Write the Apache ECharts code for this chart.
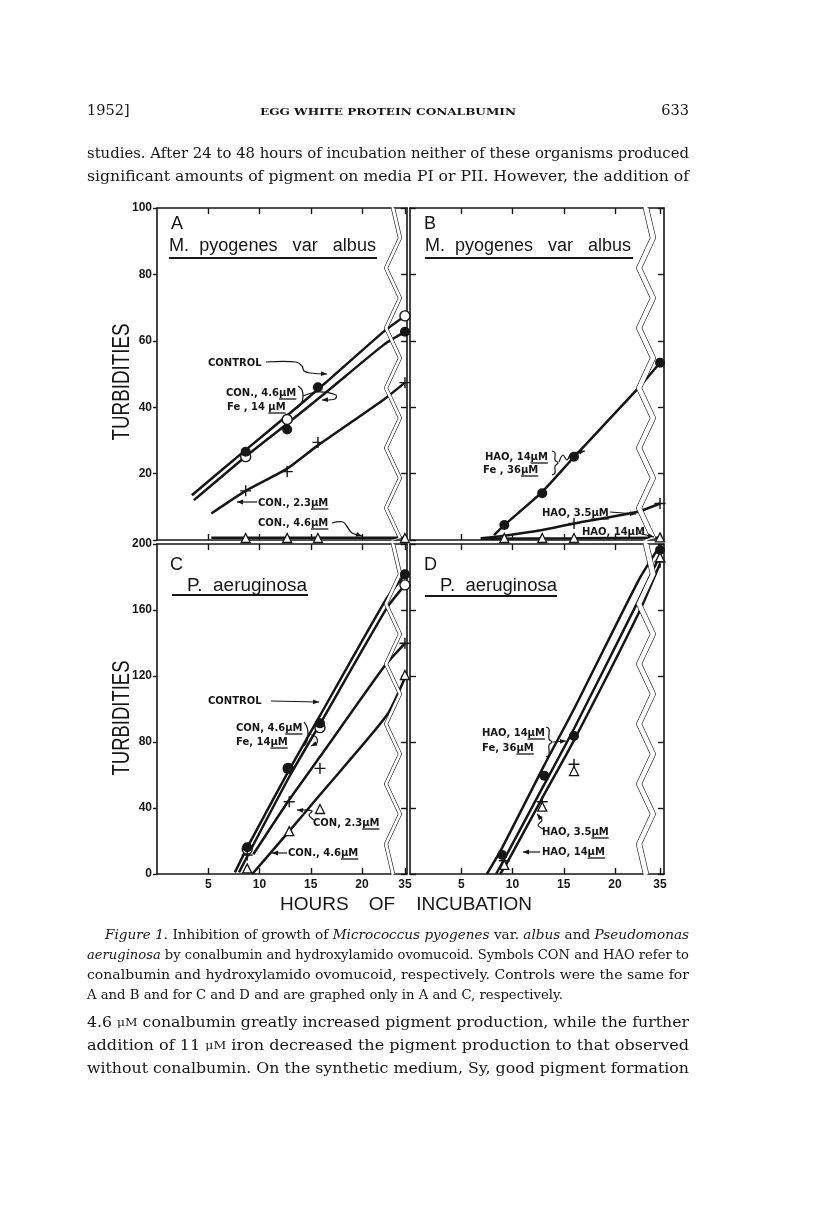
<!DOCTYPE html>
<html>
<head>
<meta charset="utf-8">
<script src="https://cdn.jsdelivr.net/npm/echarts@6.0.0/dist/echarts.min.js"></script>
<style>
  html, body { margin: 0; padding: 0; background: #fff; }
  #chart { width: 816px; height: 1213px; }
</style>
</head>
<body>
<div id="chart"></div>
<script>
// ---- tick values ----
const xTicks = [5, 10, 15, 20, 35];

// ---- panel A: M. pyogenes var albus (CON) ----
const aCtrlCurve = [[3.4, 13.5], [8.6, 27], [12.7, 37.5], [16.5, 47.5], [22.2, 63], [35, 67.5]];
const aConFeCurve = [[3.6, 12], [8.6, 25], [12.7, 35], [16.5, 44.5], [22.2, 59], [35, 62.7]];
const aCon23Curve = [[5.3, 8], [8.65, 14.8], [12.7, 21.5], [15.7, 28.5], [22.2, 42.5], [35, 47.4]];
const aCon46Curve = [[5.3, 0.7], [12.7, 0.7], [22.2, 0.7], [35, 0.7]];
const aCtrlOpen = [[8.65, 25.1], [12.7, 36.3], [35, 67.5]];
const aConFeDots = [[8.65, 26.6], [12.7, 33.3], [15.7, 46], [35, 62.7]];
const aCon23Plus = [[8.65, 14.8], [12.7, 20.6], [15.7, 29.4], [35, 47.4]];
const aCon46Tri = [[8.65, 0.6], [12.7, 0.6], [15.7, 0.6], [35, 0.6]];

// ---- panel B: M. pyogenes var albus (HAO) ----
const bHaoFeCurve = [[8.2, 1.5], [9.2, 4.5], [12.9, 14.5], [16, 25], [22.2, 45.5], [35, 53.4]];
const bHao35Curve = [[6.9, 0.5], [9.2, 1.3], [12.9, 3], [16, 5], [22.2, 8.5], [35, 11]];
const bHao14Curve = [[6.9, 0.4], [16, 0.5], [35, 0.7]];
const bHaoFeDots = [[9.2, 4.5], [12.9, 14.1], [16, 25.1], [35, 53.4]];
const bHao35Plus = [[16, 5], [35, 11]];
const bHao14Tri = [[9.2, 0.6], [12.9, 0.6], [16, 0.6], [35, 0.8]];

// ---- panel C: P. aeruginosa (CON) ----
const cConFeCurve = [[7.6, 1], [8.8, 16], [12.8, 62], [15.9, 96], [22.3, 166], [35, 181.6]];
const cCtrlCurve = [[8.0, 1], [9, 13], [13, 60], [16, 92], [22.4, 161], [35, 175.2]];
const cCon23Curve = [[9.4, 12], [12.9, 45], [15.9, 71], [22.2, 126], [35, 139.8]];
const cCon46Curve = [[9.3, 0], [12.9, 26], [15.9, 48], [22.4, 96], [35, 119]];
const cCtrlOpen = [[8.8, 15], [12.8, 64], [15.9, 88.7], [35, 175.2]];
const cConFeDots = [[8.8, 16.2], [12.8, 64], [15.9, 91.3], [35, 181.6]];
const cCon23Plus = [[8.8, 11.5], [12.9, 43.8], [15.9, 64], [35, 139.8]];
const cCon46Tri = [[8.8, 3.4], [12.9, 26], [15.9, 39.4], [35, 120.6]];

// ---- panel D: P. aeruginosa (HAO) ----
const dHaoFeCurve = [[7.5, 0], [9, 16], [13.1, 66], [16, 100], [22.3, 178], [35, 199]];
const dHao35Curve = [[8.4, 0], [9.2, 9], [12.9, 52], [16, 88], [22.3, 166], [35, 193]];
const dHao14Curve = [[8.8, 0], [9.4, 6], [12.9, 46], [16, 81], [22.3, 158], [35, 188]];
const dHaoFeDots = [[9, 11.5], [13.1, 59.6], [16, 83.6], [35, 196.4]];
const dHao35Plus = [[9.2, 8], [12.9, 43.8], [16, 66.5], [35, 189]];
const dHao14Tri = [[9.2, 5.5], [12.9, 40.8], [16, 62.4], [35, 192]];

// ---- layout ----
const INK = '#161616';
const panels = [
  { left: 157, top: 208, width: 250, height: 332, xmax: 35.2, brk: [22.83, 33.93], gap: 0.29, ymax: 100, yint: 20, yLabels: true, xLabels: false },
  { left: 410, top: 208, width: 254, height: 332, xmax: 35.39, brk: [22.73, 33.83], gap: 0.49, ymax: 100, yint: 20, yLabels: false, xLabels: false },
  { left: 157, top: 544, width: 250, height: 330, xmax: 35.2, brk: [22.83, 33.93], gap: 0.29, ymax: 200, yint: 40, yLabels: true, xLabels: true },
  { left: 410, top: 544, width: 254, height: 330, xmax: 35.39, brk: [22.73, 33.83], gap: 0.49, ymax: 200, yint: 40, yLabels: false, xLabels: true }
];

function xAxis(g, pos) {
  const p = panels[g];
  const main = pos === 'bottom';
  return {
    type: 'value', gridIndex: g, position: pos, min: 0, max: p.xmax,
    breaks: [{ start: p.brk[0], end: p.brk[1], gap: p.gap }],
    breakArea: main ? {
      show: true,
      itemStyle: { color: '#fff', borderColor: INK, borderWidth: 1.2, borderType: 'solid', opacity: 1 },
      zigzagAmplitude: 7, zigzagMinSpan: 30, zigzagMaxSpan: 30, zigzagZ: 10, expandOnClick: false
    } : { show: false },
    axisLine: { show: true, onZero: false, lineStyle: { color: INK, width: 1.6 } },
    axisTick: { show: true, inside: true, length: 6, customValues: xTicks, lineStyle: { color: INK, width: 1.4 } },
    axisLabel: { show: main && p.xLabels, customValues: xTicks, margin: 5, color: INK, fontSize: 12, fontWeight: 'bold', fontFamily: 'Liberation Sans' },
    splitLine: { show: false }
  };
}

function yAxis(g, pos) {
  const p = panels[g];
  const labelled = pos === 'left' && p.yLabels;
  return {
    type: 'value', gridIndex: g, position: pos, min: 0, max: p.ymax, interval: p.yint,
    axisLine: { show: true, onZero: false, lineStyle: { color: INK, width: 1.6 } },
    axisTick: { show: true, inside: !labelled, length: labelled ? 4 : 6, lineStyle: { color: INK, width: 1.4 } },
    axisLabel: {
      show: labelled, margin: 5, color: INK, fontSize: 12, fontWeight: 'bold', fontFamily: 'Liberation Sans',
      formatter: v => (p.ymax === 100 && v === 0) ? '' : String(v)
    },
    splitLine: { show: false }
  };
}

function curve(g, data) {
  return {
    type: 'line', xAxisIndex: 2 * g, yAxisIndex: 2 * g, data: data,
    symbol: 'none', smooth: 0.2,
    lineStyle: { color: INK, width: 2.5 }, z: 2, silent: true
  };
}

const plusPath = 'path://M4.35,0H5.65V10H4.35ZM0,4.35H10V5.65H0Z';
function marks(g, data, kind) {
  const s = {
    filled: ['circle', 10, INK, INK, 0],
    open: ['circle', 10, '#fff', INK, 1.4],
    plus: [plusPath, 11, INK, INK, 0],
    tri: ['triangle', 9, '#fff', INK, 1.3]
  }[kind];
  return {
    type: 'scatter', xAxisIndex: 2 * g, yAxisIndex: 2 * g, data: data,
    symbol: s[0], symbolSize: s[1],
    itemStyle: { color: s[2], borderColor: s[3], borderWidth: s[4], opacity: 1 },
    z: 20, silent: true, clip: false
  };
}

// ---- text helpers ----
const ctx = document.createElement('canvas').getContext('2d');
function tw(str, font) { ctx.font = font; return ctx.measureText(str).width; }

function fitText(segs, x, y, width, size, family) {
  const fonts = {
    r: size + 'px ' + family,
    i: 'italic ' + size + 'px ' + family,
    s: (size * 0.78).toFixed(1) + 'px ' + family
  };
  let w = 0, text = '';
  segs.forEach(([str, k]) => {
    w += tw(str, fonts[k]);
    text += k === 'r' ? str : '{' + k + '|' + str + '}';
  });
  return {
    type: 'text', x: x, y: y, scaleX: width ? width / w : 1, z: 100,
    style: {
      text: text, font: fonts.r, fill: INK,
      textAlign: 'left', textVerticalAlign: 'middle', align: 'left', verticalAlign: 'middle',
      rich: { i: { font: fonts.i }, s: { font: fonts.s } }
    }
  };
}

const LABEL_FONT = 'bold 10px "DejaVu Sans"';
function figLabel(x, y, pre, ul) {
  const els = [{
    type: 'text', x: x, y: y, z: 100,
    style: { text: pre + ul, font: LABEL_FONT, fill: INK, textAlign: 'left', textVerticalAlign: 'middle', align: 'left', verticalAlign: 'middle' }
  }];
  if (ul) {
    const x1 = x + tw(pre, LABEL_FONT), x2 = x + tw(pre + ul, LABEL_FONT);
    els.push({ type: 'line', z: 100, shape: { x1: x1, y1: y + 6, x2: x2, y2: y + 6 }, style: { stroke: INK, lineWidth: 1.3 } });
  }
  return els;
}

function arrow(pts, head) {
  const els = [{ type: 'polyline', z: 100, shape: { points: pts, smooth: 0.35 }, style: { stroke: INK, lineWidth: 1.2, fill: null } }];
  if (head !== false) {
    const [x2, y2] = pts[pts.length - 1], [x1, y1] = pts[pts.length - 2];
    const L = Math.hypot(x2 - x1, y2 - y1), ux = (x2 - x1) / L, uy = (y2 - y1) / L;
    els.push({
      type: 'polygon', z: 100,
      shape: { points: [[x2, y2], [x2 - 6 * ux - 2.4 * uy, y2 - 6 * uy + 2.4 * ux], [x2 - 6 * ux + 2.4 * uy, y2 - 6 * uy - 2.4 * ux]] },
      style: { fill: INK }
    });
  }
  return els;
}

function uline(x1, x2, y, w) {
  return { type: 'line', z: 100, shape: { x1: x1, y1: y, x2: x2, y2: y }, style: { stroke: INK, lineWidth: w || 2 } };
}

function plainText(str, x, y, font, align, width) {
  const el = {
    type: 'text', x: x, y: y, z: 100,
    style: { text: str, font: font, fill: INK, textAlign: align || 'left', textVerticalAlign: 'middle', align: align || 'left', verticalAlign: 'middle' }
  };
  if (width) el.scaleX = width / tw(str, font);
  return el;
}

// ---- page text ----
const SERIF = '"DejaVu Serif"';
const BODY = 15, CAP = 12.5;
const graphics = [];

graphics.push(plainText('1952]', 87, 111, '14.5px ' + SERIF));
graphics.push(plainText('EGG WHITE PROTEIN CONALBUMIN', 260, 112, 'bold 10px ' + SERIF, 'left', 256));
graphics.push(plainText('633', 689, 111, '14.5px ' + SERIF, 'right'));

graphics.push(fitText([['studies. After 24 to 48 hours of incubation neither of these organisms produced', 'r']], 87, 154, 602, BODY, SERIF));
graphics.push(fitText([['significant amounts of pigment on media PI or PII. However, the addition of', 'r']], 87, 177, 602, BODY, SERIF));

// axis titles
const SANS_N = '"Liberation Sans"';
graphics.push(Object.assign(plainText('TURBIDITIES', 123, 382, '23px ' + SANS_N, 'center', 117), { rotation: Math.PI / 2 }));
graphics.push(Object.assign(plainText('TURBIDITIES', 123, 718, '23px ' + SANS_N, 'center', 115), { rotation: Math.PI / 2 }));
graphics.push(plainText('HOURS', 280, 905, '19px ' + SANS_N));
graphics.push(plainText('OF', 382, 905, '19px ' + SANS_N, 'center'));
graphics.push(plainText('INCUBATION', 532, 905, '19px ' + SANS_N, 'right'));

// caption
graphics.push(fitText([['Figure 1', 'i'], ['. Inhibition of growth of ', 'r'], ['Micrococcus pyogenes', 'i'], [' var. ', 'r'], ['albus', 'i'], [' and ', 'r'], ['Pseudomonas', 'i']], 105, 936, 584, CAP, SERIF));
graphics.push(fitText([['aeruginosa', 'i'], [' by conalbumin and hydroxylamido ovomucoid. Symbols CON and HAO refer to', 'r']], 87, 956, 602, CAP, SERIF));
graphics.push(fitText([['conalbumin and hydroxylamido ovomucoid, respectively. Controls were the same for', 'r']], 87, 976, 602, CAP, SERIF));
graphics.push(fitText([['A and B and for C and D and are graphed only in A and C, respectively.', 'r']], 87, 996, 476, CAP, SERIF));

// following paragraph
graphics.push(fitText([['4.6 ', 'r'], ['μM', 's'], [' conalbumin greatly increased pigment production, while the further', 'r']], 87, 1023, 602, BODY, SERIF));
graphics.push(fitText([['addition of 11 ', 'r'], ['μM', 's'], [' iron decreased the pigment production to that observed', 'r']], 87, 1046, 602, BODY, SERIF));
graphics.push(fitText([['without conalbumin. On the synthetic medium, Sy, good pigment formation', 'r']], 87, 1069, 602, BODY, SERIF));

// ---- panel annotations ----
const TITLE_FONT = '18px ' + SANS_N;
// A
graphics.push(plainText('A', 171, 224, '18px ' + SANS_N));
graphics.push(plainText('M.  pyogenes   var   albus', 169, 246, TITLE_FONT, 'left', 207));
graphics.push(uline(169, 377, 258));
graphics.push(...figLabel(208, 363, 'CONTROL', ''));
graphics.push(...arrow([[266, 362], [296, 362], [302, 366], [304, 371], [310, 373], [327, 374]]));
graphics.push(...figLabel(226, 393, 'CON., 4.6', 'μM'));
graphics.push(...figLabel(227, 407, 'Fe , 14 ', 'μM'));
graphics.push(...arrow([[298, 386], [302, 390], [303, 397], [301, 404], [297, 408]], false));
graphics.push(...arrow([[303, 396], [318, 392], [336, 395], [335, 399], [322, 400]]));
graphics.push(...figLabel(258, 503, 'CON., 2.3', 'μM'));
graphics.push(...arrow([[257, 502], [237, 502]]));
graphics.push(...figLabel(258, 523, 'CON., 4.6', 'μM'));
graphics.push(...arrow([[332, 523], [343, 522], [348, 528], [352, 533], [362, 536]]));
// B
graphics.push(plainText('B', 424, 224, '18px ' + SANS_N));
graphics.push(plainText('M.  pyogenes   var   albus', 425, 246, TITLE_FONT, 'left', 206));
graphics.push(uline(425, 633, 258));
graphics.push(...figLabel(485, 457, 'HAO, 14', 'μM'));
graphics.push(...figLabel(483, 470, 'Fe , 36', 'μM'));
graphics.push(...arrow([[552, 451], [555, 453], [555, 460], [558, 463], [555, 466], [555, 473], [552, 475]], false));
graphics.push(...arrow([[559, 462], [563, 455], [567, 460], [571, 454], [585, 451]]));
graphics.push(...figLabel(542, 513, 'HAO, 3.5', 'μM'));
graphics.push(...arrow([[610, 512], [636, 514]]));
graphics.push(...figLabel(582, 532, 'HAO, 14', 'μM'));
graphics.push(...arrow([[638, 533], [654, 537]]));
// C
graphics.push(plainText('C', 170, 565, '18px ' + SANS_N));
graphics.push(plainText('P.  aeruginosa', 187, 586, TITLE_FONT, 'left', 120));
graphics.push(uline(172, 308, 595));
graphics.push(...figLabel(208, 701, 'CONTROL', ''));
graphics.push(...arrow([[271, 701], [319, 702]]));
graphics.push(...figLabel(236, 728, 'CON, 4.6', 'μM'));
graphics.push(...figLabel(236, 742, 'Fe, 14', 'μM'));
graphics.push(...arrow([[304, 722], [307, 727], [308, 734], [307, 741], [304, 746]], false));
graphics.push(...arrow([[308, 734], [316, 737], [317, 743], [311, 746]]));
graphics.push(...figLabel(313, 823, 'CON, 2.3', 'μM'));
graphics.push(...arrow([[314, 820], [309, 815], [312, 811], [297, 810]]));
graphics.push(...figLabel(288, 853, 'CON., 4.6', 'μM'));
graphics.push(...arrow([[287, 853], [272, 853]]));
// D
graphics.push(plainText('D', 424, 565, '18px ' + SANS_N));
graphics.push(plainText('P.  aeruginosa', 440, 586, TITLE_FONT, 'left', 117));
graphics.push(uline(425, 557, 596));
graphics.push(...figLabel(482, 733, 'HAO, 14', 'μM'));
graphics.push(...figLabel(482, 748, 'Fe, 36', 'μM'));
graphics.push(...arrow([[546, 727], [549, 729], [549, 739], [552, 742], [549, 745], [549, 755], [546, 757]], false));
graphics.push(...arrow([[553, 742], [566, 741]]));
graphics.push(...figLabel(542, 832, 'HAO, 3.5', 'μM'));
graphics.push(...arrow([[543, 829], [538, 825], [542, 820], [537, 814]]));
graphics.push(...figLabel(542, 852, 'HAO, 14', 'μM'));
graphics.push(...arrow([[540, 852], [523, 852]]));

// ---- chart ----
const chart = echarts.init(document.getElementById('chart'));
const xAxes = [], yAxes = [];
panels.forEach((p, g) => {
  xAxes.push(xAxis(g, 'bottom'), xAxis(g, 'top'));
  yAxes.push(yAxis(g, 'left'), yAxis(g, 'right'));
});

chart.setOption({
  animation: false,
  backgroundColor: '#fff',
  textStyle: { fontFamily: 'Liberation Sans' },
  grid: panels.map(p => ({ left: p.left, top: p.top, width: p.width, height: p.height, containLabel: false, show: false })),
  xAxis: xAxes,
  yAxis: yAxes,
  series: [
    curve(0, aCtrlCurve), curve(0, aConFeCurve), curve(0, aCon23Curve), curve(0, aCon46Curve),
    marks(0, aCtrlOpen, 'open'), marks(0, aConFeDots, 'filled'), marks(0, aCon23Plus, 'plus'), marks(0, aCon46Tri, 'tri'),
    curve(1, bHaoFeCurve), curve(1, bHao35Curve), curve(1, bHao14Curve),
    marks(1, bHaoFeDots, 'filled'), marks(1, bHao35Plus, 'plus'), marks(1, bHao14Tri, 'tri'),
    curve(2, cConFeCurve), curve(2, cCtrlCurve), curve(2, cCon23Curve), curve(2, cCon46Curve),
    marks(2, cCtrlOpen, 'open'), marks(2, cConFeDots, 'filled'), marks(2, cCon23Plus, 'plus'), marks(2, cCon46Tri, 'tri'),
    curve(3, dHaoFeCurve), curve(3, dHao35Curve), curve(3, dHao14Curve),
    marks(3, dHaoFeDots, 'filled'), marks(3, dHao35Plus, 'plus'), marks(3, dHao14Tri, 'tri')
  ],
  graphic: graphics
});
</script>
</body>
</html>
